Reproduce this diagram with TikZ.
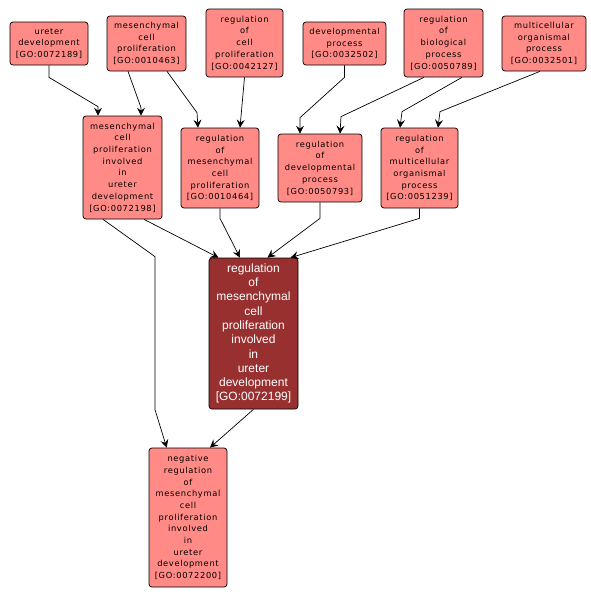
\documentclass[tikz,border=0pt]{standalone}
\usepackage{fontspec}
\setmainfont{DejaVu Sans}
\newfontfamily\lightfont[LetterSpace=8]{DejaVu Sans}
\newfontfamily\darkfont{Liberation Sans}
\usetikzlibrary{arrows.meta}
\definecolor{lightred}{RGB}{255,138,134}
\definecolor{darkred}{RGB}{152,48,48}
\begin{document}
\begin{tikzpicture}[x=1pt,y=-1pt,
  go/.style={draw=black, line width=0.7pt, rounded corners=3pt, fill=lightred, align=center, inner sep=0pt, font=\lightfont\fontsize{8.3}{11.7}\selectfont},
  godark/.style={go, fill=darkred, text=white, font=\darkfont\fontsize{12}{14.3}\selectfont},
  edge/.style={draw, line width=0.7pt, -{Stealth[length=8pt,width=8pt,inset=3pt]}}]
\fill[white] (0,0) rectangle (591,598);
\useasboundingbox (0,0) rectangle (591,598);
% top row
\node[go, minimum width=78pt, minimum height=43pt] (ud) at (49,43.5) {ureter\\development\\{[}GO:0072189{]}};
\node[go, minimum width=79pt, minimum height=55pt] (mcp) at (146.5,43.5) {mesenchymal\\cell\\proliferation\\{[}GO:0010463{]}};
\node[go, minimum width=77pt, minimum height=68pt] (rcp) at (244.5,43) {regulation\\of\\cell\\proliferation\\{[}GO:0042127{]}};
\node[go, minimum width=83pt, minimum height=43pt] (dp) at (344.5,43.5) {developmental\\process\\{[}GO:0032502{]}};
\node[go, minimum width=79pt, minimum height=68pt] (rbp) at (443.5,43) {regulation\\of\\biological\\process\\{[}GO:0050789{]}};
\node[go, minimum width=84pt, minimum height=55pt] (mop) at (544,43.5) {multicellular\\organismal\\process\\{[}GO:0032501{]}};
% middle row
\node[go, minimum width=79pt, minimum height=103pt] (mi) at (122.5,167.5) {mesenchymal\\cell\\proliferation\\involved\\in\\ureter\\development\\{[}GO:0072198{]}};
\node[go, minimum width=78pt, minimum height=80pt] (rmcp) at (220,168) {regulation\\of\\mesenchymal\\cell\\proliferation\\{[}GO:0010464{]}};
\node[go, minimum width=84pt, minimum height=68pt] (rdp) at (320,168) {regulation\\of\\developmental\\process\\{[}GO:0050793{]}};
\node[go, minimum width=77pt, minimum height=80pt] (rmop) at (419.5,168) {regulation\\of\\multicellular\\organismal\\process\\{[}GO:0051239{]}};
% central
\node[godark, minimum width=89pt, minimum height=151pt] (c) at (253.5,333.5) {regulation\\of\\mesenchymal\\cell\\proliferation\\involved\\in\\ureter\\development\\{[}GO:0072199{]}};
% bottom
\node[go, minimum width=78pt, minimum height=139pt] (b) at (188,517.5) {negative\\regulation\\of\\mesenchymal\\cell\\proliferation\\involved\\in\\ureter\\development\\{[}GO:0072200{]}};
% edges
\draw[edge] (ud.south) -- ++(0,12) -- ([xshift=-24.5pt,yshift=9pt]mi.north) -- ([xshift=-24.5pt]mi.north);
\draw[edge] ([xshift=-18.5pt]mcp.south) -- ([xshift=18.5pt,yshift=8pt]mi.north) -- ([xshift=18.5pt]mi.north);
\draw[edge] ([xshift=20.5pt]mcp.south) -- ([xshift=-23pt,yshift=15pt]rmcp.north) -- ([xshift=-22pt]rmcp.north);
\draw[edge] (rcp.south) -- ([xshift=20pt]rmcp.north);
\draw[edge] (dp.south) -- ++(0,12) -- ([xshift=-20pt,yshift=16pt]rdp.north) -- ([xshift=-20pt]rdp.north);
\draw[edge] ([xshift=-19.5pt]rbp.south) -- ([xshift=21pt,yshift=17pt]rdp.north) -- ([xshift=20pt]rdp.north);
\draw[edge] ([xshift=18.5pt]rbp.south) -- ([xshift=-17.5pt,yshift=16pt]rmop.north) -- ([xshift=-19.5pt]rmop.north);
\draw[edge] ([xshift=-4pt]mop.south) -- ([xshift=20.5pt,yshift=16pt]rmop.north) -- ([xshift=18.5pt]rmop.north);
\draw[edge] ([xshift=21.5pt]mi.south) -- ([xshift=-35pt]c.north);
\draw[edge] ([xshift=-19.5pt]mi.south) -- ([xshift=-98.5pt,yshift=1pt]c.north) -- ([xshift=-33pt,yshift=38pt]b.north) -- ([xshift=-21.3pt]b.north);
\draw[edge] (rmcp.south) -- ++(0,10) -- ([xshift=-13.5pt]c.north);
\draw[edge] (rdp.south) -- ++(0,16) -- ([xshift=14pt]c.north);
\draw[edge] (rmop.south) -- ++(0,10) -- ([xshift=37pt]c.north);
\draw[edge] (c.south) -- ([xshift=22pt]b.north);
\end{tikzpicture}
\end{document}
